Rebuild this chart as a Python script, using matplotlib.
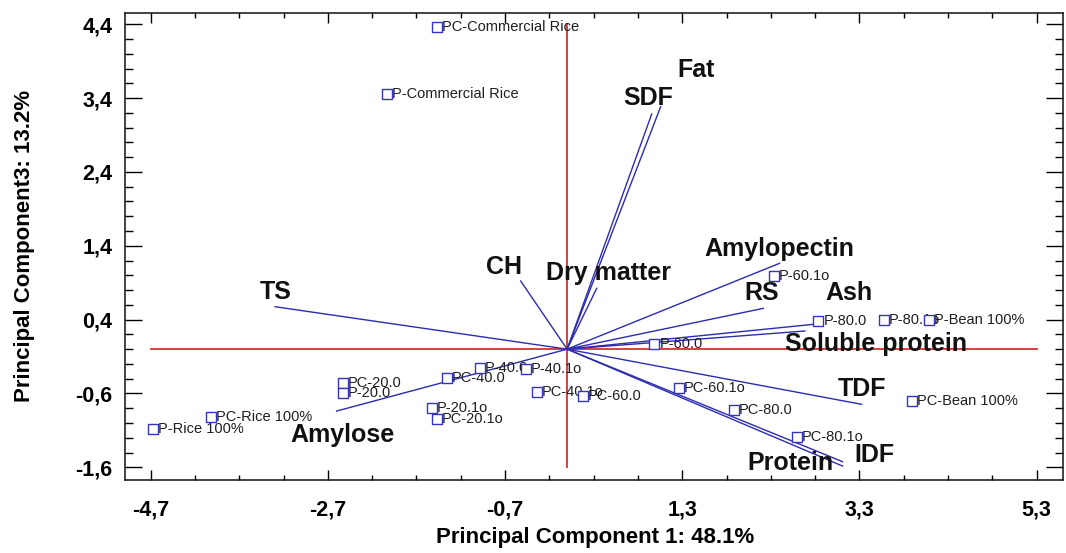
import matplotlib
matplotlib.use("Agg")
import matplotlib.pyplot as plt
from matplotlib.ticker import FixedLocator, FuncFormatter

plt.rcParams['font.family'] = ['Liberation Sans', 'DejaVu Sans']

# ---- sample scores (PC1, PC3) ----
sample_names = ["PC-Commercial Rice", "P-Commercial Rice", "P-Rice 100%", "PC-Rice 100%",
                "PC-20.0", "P-20.0", "PC-40.0", "P-40.0", "P-20.1o", "PC-20.1o",
                "P-40.1o", "PC-40.1o", "PC-60.0", "P-60.0", "P-60.1o", "P-80.0",
                "P-80.1o", "P-Bean 100%", "PC-60.1o", "PC-80.0", "PC-80.1o", "PC-Bean 100%"]
sample_pc1 = [-1.469, -2.036, -4.670, -4.023, -2.533, -2.533, -1.359, -0.983, -1.528, -1.472,
              -0.466, -0.338, 0.175, 0.984, 2.333, 2.837, 3.577, 4.081, 1.264, 1.886, 2.592, 3.895]
sample_pc3 = [4.363, 3.452, -1.086, -0.915, -0.454, -0.590, -0.387, -0.259, -0.793, -0.950,
              -0.269, -0.576, -0.630, 0.066, 0.991, 0.381, 0.395, 0.395, -0.530, -0.824, -1.186, -0.698]

# ---- variable loadings (scaled) ----
var_names = ["TS", "Amylose", "CH", "Dry matter", "SDF", "Fat", "Amylopectin", "RS", "Ash",
             "Soluble protein", "TDF", "IDF", "Protein"]
var_pc1 = [-3.297, -2.601, -0.524, 0.334, 0.955, 1.056, 2.398, 2.215, 2.818, 2.683, 3.324, 3.109, 3.109]
var_pc3 = [0.575, -0.838, 0.923, 0.824, 3.185, 3.284, 1.163, 0.553, 0.341, 0.246, -0.747, -1.524, -1.583]
# label offsets from vector tip (pixels)
var_label_dx = [1, 6, -17, 12, -3, 35, 0, -2, 32, 71, 0, 32, -52]
var_label_dy = [15, -24, 14, 15, 16, 37, 14, 15, 31, -13, 15, 7, 3]

x_major = [-4.7, -2.7, -0.7, 1.3, 3.3, 5.3]
y_major = [-1.6, -0.6, 0.4, 1.4, 2.4, 3.4, 4.4]

fig = plt.figure(figsize=(10.66, 5.53), dpi=100)
ax = fig.add_axes([125/1066, 1 - 480/553, (1063-125)/1066, (480-12.7)/553])
ax.set_xlim(-4.99, 5.597)
ax.set_ylim(-1.772, 4.557)

red = '#e03c3c'
ax.plot([x_major[0], x_major[-1]], [0, 0], color=red, lw=1.4, zorder=1)
ax.plot([0, 0], [y_major[0], y_major[-1]], color=red, lw=1.4, zorder=1)

blue = '#2c2cb0'
for name, vx, vy, dx, dy in zip(var_names, var_pc1, var_pc3, var_label_dx, var_label_dy):
    ax.plot([0, vx], [0, vy], color=blue, lw=1.0, zorder=2)
    ax.annotate(name, (vx, vy), xytext=(dx, dy), textcoords='offset pixels',
                ha='center', va='center', fontsize=18, fontweight='bold', color='#111111', zorder=3)

for name, sx, sy in zip(sample_names, sample_pc1, sample_pc3):
    ax.annotate(name, (sx, sy), xytext=(5, 0), textcoords='offset pixels',
                ha='left', va='center', fontsize=10.5, color='#1e1e1e', zorder=4)
ax.scatter(sample_pc1, sample_pc3, marker='s', s=55, facecolor='white',
           edgecolor='#3535c0', linewidth=1.0, zorder=5)

fmt = FuncFormatter(lambda v, p: f"{v:.1f}".replace('.', ','))
ax.xaxis.set_major_locator(FixedLocator(x_major))
ax.yaxis.set_major_locator(FixedLocator(y_major))
ax.xaxis.set_minor_locator(FixedLocator([-4.7 + 0.5 * i for i in range(22) if i % 4 != 0]))
ax.yaxis.set_minor_locator(FixedLocator([-1.6 + 0.2 * i for i in range(32) if i % 5 != 0]))
ax.xaxis.set_major_formatter(fmt)
ax.yaxis.set_major_formatter(fmt)

ax.tick_params(axis='x', which='major', direction='in', length=7.5, width=1.0, top=True,
               labelsize=15.5, pad=14)
ax.tick_params(axis='x', which='minor', direction='in', length=3.6, width=1.0, top=True)
ax.tick_params(axis='y', which='major', direction='in', length=12, width=1.0, right=True,
               labelsize=15.5, pad=9)
ax.tick_params(axis='y', which='minor', direction='in', length=5.8, width=1.0, right=True)
for lab in ax.get_xticklabels() + ax.get_yticklabels():
    lab.set_fontweight('bold')
for sp in ax.spines.values():
    sp.set_linewidth(1.1)
    sp.set_color('#111111')

ax.set_xlabel("Principal Component 1: 48.1%", fontsize=16, fontweight='bold')
ax.set_ylabel("Principal Component3: 13.2%", fontsize=16, fontweight='bold')
ax.xaxis.set_label_coords(0.501, -0.1)
ax.yaxis.set_label_coords(-0.096, 0.5)

fig.savefig("out.png", dpi=100)
